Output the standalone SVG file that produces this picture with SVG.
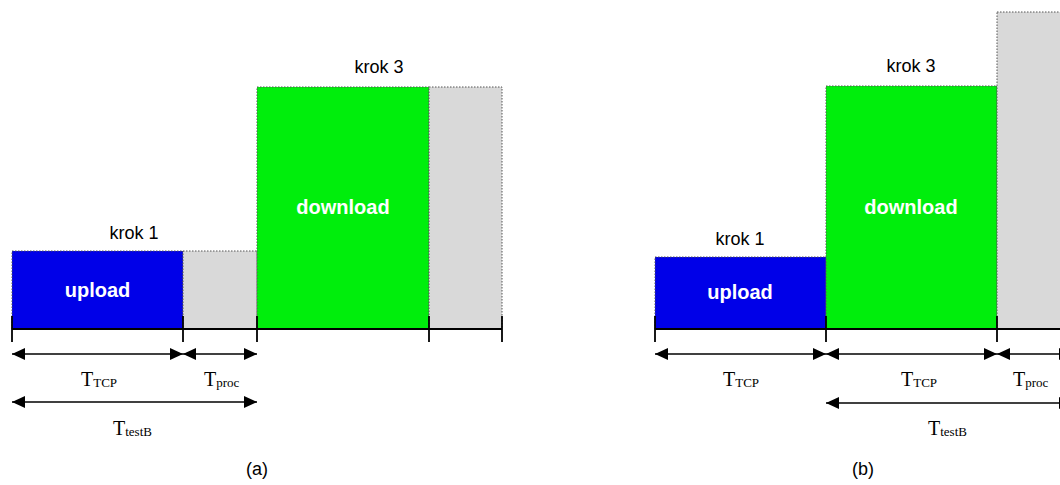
<svg xmlns="http://www.w3.org/2000/svg" width="1060" height="485" viewBox="0 0 1060 485">
<style>
.blk{fill:#0000e8;stroke:#555;stroke-width:1;stroke-dasharray:1.5 1.5}
.grn{fill:#00ee0c;stroke:#555;stroke-width:1;stroke-dasharray:1.5 1.5}
.gry{fill:#d9d9d9;stroke:#555;stroke-width:1;stroke-dasharray:1.5 1.5}
.lbl{font-family:"Liberation Sans",Arial,sans-serif;font-size:18px;fill:#000;text-anchor:middle}
.in{font-family:"Liberation Sans",Arial,sans-serif;font-size:20px;font-weight:bold;fill:#fff;text-anchor:middle}
.t{font-family:"Liberation Serif","Times New Roman",serif;font-size:20px;fill:#000}
.t tspan.s{font-size:13px}
.ax{stroke:#000;stroke-width:1.8;fill:none}
.arr{stroke:#000;stroke-width:1.6;fill:none;marker-start:url(#ah);marker-end:url(#ah)}
</style>
<defs>
<marker id="ah" markerUnits="userSpaceOnUse" markerWidth="14" markerHeight="12" refX="13" refY="6" orient="auto-start-reverse">
<path d="M0,0 L13,6 L0,12 Z" fill="#000"/>
</marker>
</defs>

<!-- (a) -->
<g id="a-upload"><rect class="blk" x="12" y="251" width="171" height="78"/><text class="in" x="97.5" y="297">upload</text></g>
<g id="a-proc1"><rect class="gry" x="183" y="251" width="74" height="78"/></g>
<g id="a-download"><rect class="grn" x="257" y="87" width="172" height="242"/><text class="in" x="343" y="214">download</text></g>
<g id="a-proc2"><rect class="gry" x="429" y="87" width="73" height="242"/></g>
<g id="a-krok1"><text class="lbl" x="134" y="239">krok 1</text></g>
<g id="a-krok3"><text class="lbl" x="379" y="73">krok 3</text></g>
<g id="a-axis" class="ax">
<line x1="12" y1="329" x2="502" y2="329"/>
<line x1="12" y1="316" x2="12" y2="342"/>
<line x1="183" y1="316" x2="183" y2="342"/>
<line x1="257" y1="316" x2="257" y2="342"/>
<line x1="429" y1="316" x2="429" y2="342"/>
<line x1="502" y1="316" x2="502" y2="342"/>
</g>
<g id="a-connectors">
<line class="arr" x1="12" y1="354" x2="183" y2="354"/>
<line class="arr" x1="183" y1="354" x2="257" y2="354"/>
<line class="arr" x1="12" y1="402" x2="257" y2="402"/>
</g>
<g id="a-labels">
<text class="t" x="81" y="386">T<tspan class="s" dy="1">TCP</tspan></text>
<text class="t" x="204" y="386">T<tspan class="s" dy="1">proc</tspan></text>
<text class="t" x="113" y="435">T<tspan class="s" dy="1">testB</tspan></text>
<text class="lbl" x="257" y="475">(a)</text>
</g>

<!-- (b) -->
<g id="b-upload"><rect class="blk" x="655" y="257" width="171" height="72"/><text class="in" x="740" y="299">upload</text></g>
<g id="b-download"><rect class="grn" x="826" y="86" width="171" height="243"/><text class="in" x="911" y="214">download</text></g>
<g id="b-proc"><rect class="gry" x="997" y="12" width="80" height="317"/></g>
<g id="b-krok1"><text class="lbl" x="740" y="245">krok 1</text></g>
<g id="b-krok3"><text class="lbl" x="911" y="72">krok 3</text></g>
<g id="b-axis" class="ax">
<line x1="655" y1="329" x2="1070" y2="329"/>
<line x1="655" y1="316" x2="655" y2="342"/>
<line x1="826" y1="316" x2="826" y2="342"/>
<line x1="997" y1="316" x2="997" y2="342"/>
</g>
<g id="b-connectors">
<line class="arr" x1="655" y1="354" x2="826" y2="354"/>
<line class="arr" x1="826" y1="354" x2="997" y2="354"/>
<line class="arr" x1="997" y1="354" x2="1072" y2="354"/>
<line class="arr" x1="826" y1="403" x2="1072" y2="403"/>
</g>
<g id="b-labels">
<text class="t" x="723" y="386">T<tspan class="s" dy="1">TCP</tspan></text>
<text class="t" x="901" y="386">T<tspan class="s" dy="1">TCP</tspan></text>
<text class="t" x="1013" y="386">T<tspan class="s" dy="1">proc</tspan></text>
<text class="t" x="928" y="435">T<tspan class="s" dy="1">testB</tspan></text>
<text class="lbl" x="863" y="475">(b)</text>
</g>
</svg>
